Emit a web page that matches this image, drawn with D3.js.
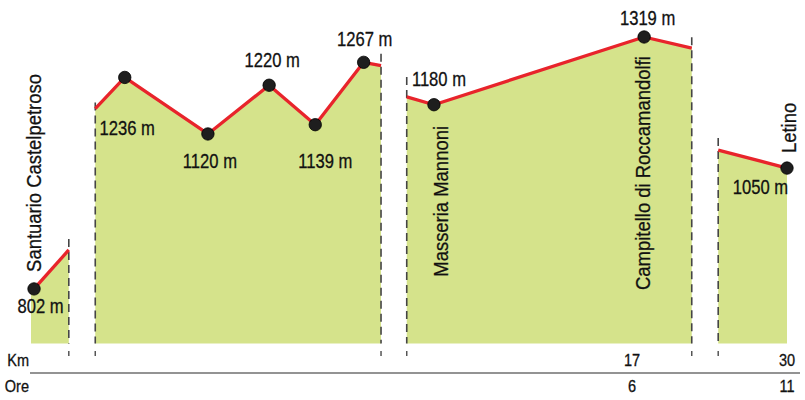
<!DOCTYPE html>
<html><head><meta charset="utf-8">
<script src="https://cdn.jsdelivr.net/npm/d3@7/dist/d3.min.js"></script>
<style>
html,body{margin:0;padding:0;background:#fff;}
svg{display:block;}
text{font-family:"Liberation Sans",Arial,sans-serif;fill:#111;stroke:#111;stroke-width:0.3px;}
</style></head><body>
<svg id="c" width="805" height="400"></svg>
<script>
// ---- data ----
// profile position (display units along the broken profile) and elevation (m)
const seg1Pos  = [0.4, 5.0];
const seg1Elev = [802, 882];
const seg2Pos  = [8.5, 12.4, 23.4, 31.5, 37.6, 44.0, 46.3];
const seg2Elev = [1172, 1236, 1120, 1220, 1139, 1267, 1260];
const seg3Pos  = [49.7, 53.3, 81.1, 87.4];
const seg3Elev = [1196, 1180, 1319, 1296];
const seg4Pos  = [90.9, 100];
const seg4Elev = [1087, 1050];
// labelled points: [segment index, point index]
const markedPoints = [[0,0],[1,1],[1,2],[1,3],[1,4],[1,5],[2,1],[2,2],[3,1]];
const elevLabels   = ["802 m","1236 m","1120 m","1220 m","1139 m","1267 m","1180 m","1319 m","1050 m"];
const placeNames   = ["Santuario Castelpetroso","Masseria Mannoni","Campitello di Roccamandolfi","Letino"];
const placeAt      = [[0,0],[2,1],[2,2],[3,1]];
const kmTickPos    = [79.5, 100];
const kmTickLabels = ["17","30"];
const oreTickLabels= ["6","11"];
const axisNames    = ["Km","Ore"];

// ---- layout ----
const x = d3.scaleLinear().domain([0,100]).range([31,787]);
const y = d3.scaleLinear().domain([690,1320]).range([343.5,36.5]);
const baseY = 343.5;
const svg = d3.select("#c");

const segments = [[seg1Pos,seg1Elev],[seg2Pos,seg2Elev],[seg3Pos,seg3Elev],[seg4Pos,seg4Elev]]
  .map(([p,e]) => p.map((v,i)=>({pos:v, elev:e[i]})));

// area fill
const area = d3.area().x(d=>x(d.pos)).y0(baseY).y1(d=>y(d.elev));
segments.forEach((s,i)=>{
  const pts = i===0 ? [{pos:0, elev:s[0].elev}, ...s] : s;
  svg.append("path").attr("d", area(pts)).attr("fill","#d5e38b");
});

// dashed break lines
const breaks = [];
segments.forEach((s,i)=>{
  if(i>0) breaks.push(s[0]);
  if(i<segments.length-1) breaks.push(s[s.length-1]);
});
breaks.sort((a,b)=>a.pos-b.pos);
const breakExt = [11, 6, 12, 20, 11, 12];
breaks.forEach((b,i)=>{
  svg.append("line").attr("x1",x(b.pos)).attr("x2",x(b.pos))
    .attr("y1",y(b.elev)-breakExt[i]).attr("y2",baseY)
    .attr("stroke","#454545").attr("stroke-width",1.6).attr("stroke-dasharray","8,5");
  svg.append("line").attr("x1",x(b.pos)).attr("x2",x(b.pos))
    .attr("y1",351).attr("y2",356)
    .attr("stroke","#555").attr("stroke-width",1.5);
});

// red profile line
const line = d3.line().x(d=>x(d.pos)).y(d=>y(d.elev));
segments.forEach(s=>{
  svg.append("path").attr("d",line(s)).attr("fill","none")
    .attr("stroke","#e8242b").attr("stroke-width",3.3).attr("stroke-linejoin","round");
});

// points
markedPoints.forEach(([si,pi])=>{
  const d = segments[si][pi];
  svg.append("circle").attr("cx",x(d.pos)).attr("cy",y(d.elev)).attr("r",6.2)
    .attr("fill","#1e1e1e").attr("stroke","#000").attr("stroke-width",0.8);
});

// elevation labels: offsets (dx, baseline dy) relative to point
const elevOffsets = [[6.5,24],[2.5,58],[2,34],[3,-18],[10,43],[1,-16],[5,-19],[3.5,-12],[-26.5,26]];
markedPoints.forEach(([si,pi],i)=>{
  const d = segments[si][pi];
  svg.append("text")
    .attr("transform",`translate(${x(d.pos)+elevOffsets[i][0]},${y(d.elev)+elevOffsets[i][1]}) scale(0.83,1)`)
    .attr("text-anchor","middle").attr("font-size",20).text(elevLabels[i]);
});

// place names (rotated): baseline dx and start dy relative to point
const placeOffsets = [[7,-17],[14,172],[6,253],[9,-15]];
placeAt.forEach(([si,pi],i)=>{
  const d = segments[si][pi];
  const px = x(d.pos)+placeOffsets[i][0], py = y(d.elev)+placeOffsets[i][1];
  svg.append("text").attr("transform",`translate(${px},${py}) rotate(-90) scale(0.9,1)`)
    .attr("font-size",20.5).text(placeNames[i]);
});

// bottom axis
svg.append("line").attr("x1",30).attr("x2",800).attr("y1",373).attr("y2",373)
  .attr("stroke","#6f6f6f").attr("stroke-width",1.6);
const axText = (tx,ty,anchor,str)=>svg.append("text")
  .attr("transform",`translate(${tx},${ty}) scale(0.88,1)`)
  .attr("text-anchor",anchor).attr("font-size",16.5).text(str);
axText(29,366,"end",axisNames[0]);
axText(29,392,"end",axisNames[1]);
kmTickPos.forEach((p,i)=>{
  axText(x(p),366,"middle",kmTickLabels[i]);
  axText(x(p),392,"middle",oreTickLabels[i]);
});
</script>
</body></html>
